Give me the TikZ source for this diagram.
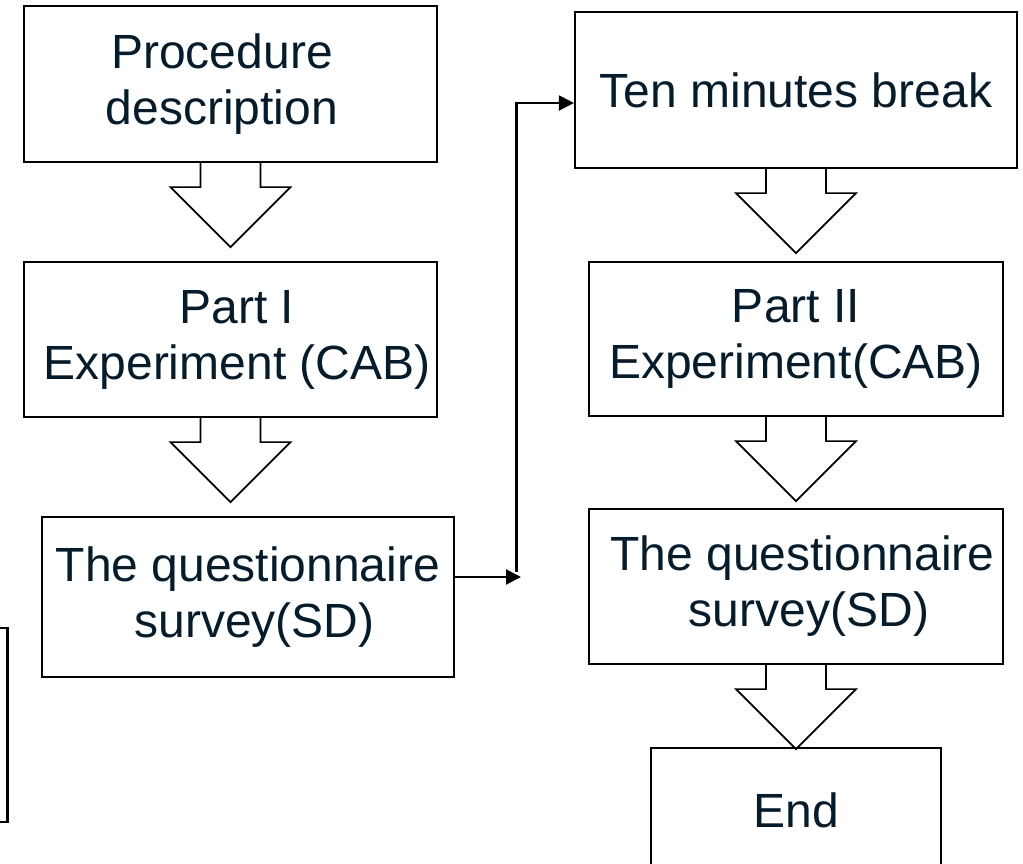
\documentclass[tikz,border=0pt]{standalone}
\usepackage{fontspec}
\setmainfont{Liberation Sans}
\usetikzlibrary{arrows.meta,calc}
\definecolor{txt}{RGB}{5,28,44}
\newcommand\blkarrow[1]{\draw[blk] ($(#1.south)+(-30,0)$) -- ++(0,24) -- ++(-30,0) -- ++(60,60) -- ++(60,-60) -- ++(-30,0) -- ++(0,-24);}
\begin{document}
\begin{tikzpicture}[x=1pt,y=-1pt,
  box/.style={draw=black,line width=2.2pt,fill=white,inner sep=0pt,align=center,text=txt,font=\fontsize{48}{56}\selectfont},
  blk/.style={draw=black,line width=1.7pt,line join=miter},
  conn/.style={draw=black,line width=2.2pt,-{Triangle[length=15pt,width=15pt]}}]
\useasboundingbox (0,0) rectangle (1023,863);
\clip (0,0) rectangle (1023,863);
% left column
\node[box,minimum width=413pt,minimum height=156pt] (b1) at (230.5,84) {Procedure\hspace*{17pt}\\description\hspace*{17pt}};
\node[box,minimum width=413pt,minimum height=155pt] (b2) at (230.5,339.5) {\hspace*{13pt}Part I\\\hspace*{13pt}Experiment (CAB)};
\node[box,minimum width=412pt,minimum height=160pt] (b3) at (248,597) {The questionnaire\\\hspace*{13pt}survey(SD)};
\node[box,minimum width=215pt,minimum height=194pt] (lp) at (-100,725) {};
% right column
\node[box,minimum width=442pt,minimum height=156pt] (t1) at (796,90) {Ten minutes break};
\node[box,minimum width=414pt,minimum height=154pt] (b5) at (796,339) {Part II\\Experiment(CAB)};
\node[box,minimum width=414pt,minimum height=155pt] (b6) at (796,586.5) {\hspace*{13pt}The questionnaire\\\hspace*{26pt}survey(SD)};
\node[box,minimum width=290pt,minimum height=124pt] (e) at (796,810) {End};
% block arrows
\blkarrow{b1}
\blkarrow{b2}
\blkarrow{t1}
\blkarrow{b5}
\blkarrow{b6}
% connector
\coordinate (j1) at (521,577);
\coordinate (j2) at (516.5,572);
\draw[conn] ($(b3.east)+(0,-20)$) -- (j1);
\draw[conn] (j2) |- ($(t1.west)+(0,13)$);
\end{tikzpicture}
\end{document}
